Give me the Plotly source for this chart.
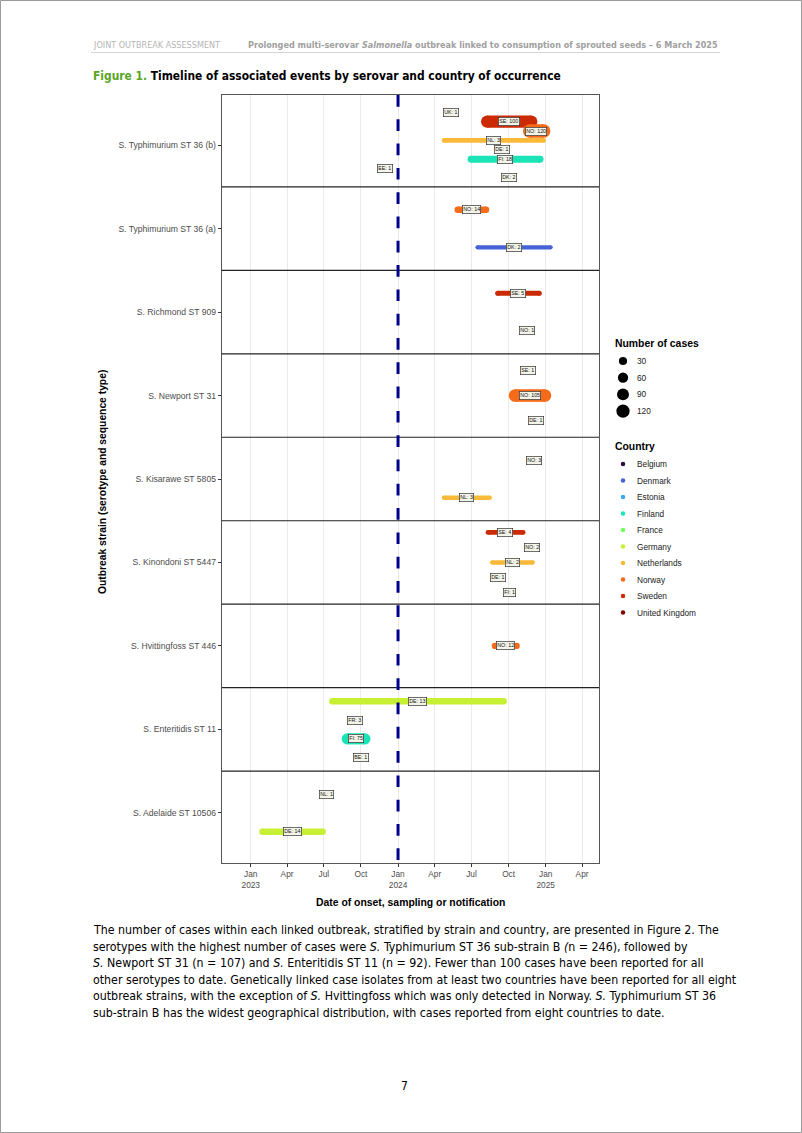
import math
from datetime import date
import plotly.graph_objects as go

W, H = 802, 1133

# ---------------- data ----------------
serovars = ["S. Adelaide ST 10506", "S. Enteritidis ST 11", "S. Hvittingfoss ST 446",
            "S. Kinondoni ST 5447", "S. Kisarawe ST 5805", "S. Newport ST 31",
            "S. Richmond ST 909", "S. Typhimurium ST 36 (a)", "S. Typhimurium ST 36 (b)"]

countries = ["Belgium", "Denmark", "Estonia", "Finland", "France", "Germany",
             "Netherlands", "Norway", "Sweden", "United Kingdom"]
country_codes = ["BE", "DK", "EE", "FI", "FR", "DE", "NL", "NO", "SE", "UK"]
country_colors = ["#30123B", "#4662D7", "#36AAF9", "#1AE4B6", "#72FE5E", "#C7EF34",
                  "#FABA39", "#F66B19", "#CB2A04", "#7A0403"]

# events: serovar, country code, number of cases, first date, last date
ev_serovar = ["S. Typhimurium ST 36 (b)"] * 8 + ["S. Typhimurium ST 36 (a)"] * 2 + \
             ["S. Richmond ST 909"] * 2 + ["S. Newport ST 31"] * 3 + ["S. Kisarawe ST 5805"] * 2 + \
             ["S. Kinondoni ST 5447"] * 5 + ["S. Hvittingfoss ST 446"] + \
             ["S. Enteritidis ST 11"] * 4 + ["S. Adelaide ST 10506"] * 2
ev_country = ["UK", "SE", "NO", "NL", "DE", "FI", "EE", "DK",
              "NO", "DK",
              "SE", "NO",
              "SE", "NO", "DE",
              "NO", "NL",
              "SE", "NO", "NL", "DE", "FI",
              "NO",
              "DE", "FR", "FI", "BE",
              "NL", "DE"]
ev_cases = [1, 100, 120, 3, 1, 18, 1, 2,
            14, 2,
            5, 1,
            1, 105, 1,
            3, 3,
            4, 2, 2, 1, 1,
            12,
            13, 3, 75, 1,
            1, 14]
ev_start = ["2024-05-11", "2024-08-09", "2024-11-22", "2024-04-24", "2024-09-14", "2024-06-30", "2023-11-29", "2024-10-01",
            "2024-05-28", "2024-07-16",
            "2024-09-04", "2024-11-15",
            "2024-11-19", "2024-10-17", "2024-12-08",
            "2024-12-02", "2024-04-24",
            "2024-08-11", "2024-11-29", "2024-08-21", "2024-09-04", "2024-10-02",
            "2024-08-28",
            "2023-07-22", "2023-09-17", "2023-08-28", "2023-09-30",
            "2023-07-08", "2023-01-30"]
ev_end = ["2024-05-11", "2024-11-26", "2024-12-27", "2024-12-27", "2024-09-14", "2024-12-18", "2023-11-29", "2024-10-01",
          "2024-08-06", "2025-01-13",
          "2024-12-16", "2024-11-15",
          "2024-11-19", "2024-12-30", "2024-12-08",
          "2024-12-02", "2024-08-15",
          "2024-11-06", "2024-11-29", "2024-11-30", "2024-09-04", "2024-10-02",
          "2024-10-21",
          "2024-09-19", "2023-09-17", "2023-10-11", "2023-09-30",
          "2023-07-08", "2023-06-28"]

reference_date = "2024-01-01"
x_range = ["2022-10-21", "2025-05-13"]
tick_dates = ["2023-01-01", "2023-04-01", "2023-07-01", "2023-10-01", "2024-01-01", "2024-04-01",
              "2024-07-01", "2024-10-01", "2025-01-01", "2025-04-01"]
tick_text = ["Jan<br>2023", "Apr", "Jul", "Oct", "Jan<br>2024", "Apr", "Jul", "Oct", "Jan<br>2025", "Apr"]
size_breaks = [30, 60, 90, 120]

# ---------------- helpers ----------------
CHART_FONT = "Liberation Sans, Arial, sans-serif"
DOC_FONT = "DejaVu Sans Condensed, Tahoma, DejaVu Sans, sans-serif"


def width_for(n):
    return 4.3 + 0.943 * (math.sqrt(n) - math.sqrt(2))


def px(x):
    return x / W


def py(y):
    return 1 - y / H


def d(s):
    return date.fromisoformat(s)


def note(x, y, text, size, color="black", family=CHART_FONT, xanchor="left", **kw):
    return dict(x=px(x), y=py(y), xref="paper", yref="paper", text=text, showarrow=False,
                xanchor=xanchor, yanchor="middle", font=dict(family=family, size=size, color=color), **kw)


fig = go.Figure()

# dodge positions within each serovar (reverse alphabetical by country name, top to bottom)
ypos = [0.0] * len(ev_cases)
for gi, sv in enumerate(serovars):
    idx = [i for i in range(len(ev_cases)) if ev_serovar[i] == sv]
    idx.sort(key=lambda i: -country_codes.index(ev_country[i]))
    n = len(idx)
    for k, i in enumerate(idx):
        ypos[i] = gi + ((n - 1) / 2 - k) * 0.9 / n

annotations = []
for i in range(len(ev_cases)):
    ci = country_codes.index(ev_country[i])
    col = country_colors[ci]
    w = width_for(ev_cases[i])
    s, e = d(ev_start[i]), d(ev_end[i])
    fig.add_trace(go.Scatter(
        x=[ev_start[i], ev_end[i]], y=[ypos[i], ypos[i]],
        mode="lines+markers",
        line=dict(color=col, width=w),
        marker=dict(color=col, size=w, line=dict(width=0)),
        xaxis="x", yaxis="y", showlegend=False, hoverinfo="skip"))
    mid = s + (e - s) / 2
    annotations.append(dict(
        x=mid.isoformat(), y=ypos[i], xref="x", yref="y",
        text=f"{ev_country[i]}: {ev_cases[i]}", showarrow=False,
        xanchor="center", yanchor="middle",
        font=dict(family=CHART_FONT, size=5.3, color="#111"),
        bgcolor="#f4f4e8", bordercolor="#333", borderwidth=0.7, borderpad=0.6))

# ---------------- legend (drawn on overlay pixel axes) ----------------
leg_x = 623
for k, b in enumerate(size_breaks):
    yy = 361 + k * 16.7
    fig.add_trace(go.Scatter(x=[leg_x], y=[yy], mode="markers",
                             marker=dict(color="black", size=width_for(b)),
                             xaxis="x2", yaxis="y2", showlegend=False, hoverinfo="skip"))
    annotations.append(note(635, yy, str(b), 8.3, "#222"))
annotations.append(note(613, 343, "<b>Number of cases</b>", 10.4))
annotations.append(note(613, 446, "<b>Country</b>", 10.4))
for k, c in enumerate(countries):
    yy = 464 + k * 16.5
    fig.add_trace(go.Scatter(x=[leg_x], y=[yy], mode="markers",
                             marker=dict(color=country_colors[k], size=4.5),
                             xaxis="x2", yaxis="y2", showlegend=False, hoverinfo="skip"))
    annotations.append(note(635, yy, c, 8.3, "#222"))

# ---------------- axis titles ----------------
annotations.append(note(410, 902, "<b>Date of onset, sampling or notification</b>", 10.4, xanchor="center"))
annotations.append(note(102, 482, "<b>Outbreak strain (serotype and sequence type)</b>", 10.3,
                        xanchor="center", textangle=-90))

# ---------------- document text ----------------
annotations.append(note(91, 45, "JOINT OUTBREAK ASSESSMENT", 9, "#b5b5b5", DOC_FONT))
annotations.append(note(720, 45, "<b>Prolonged multi-serovar <i>Salmonella</i> outbreak linked to consumption of sprouted seeds – 6 March 2025</b>",
                        9, "#a0a0a0", DOC_FONT, xanchor="right"))
annotations.append(note(91, 76, "<b><span style='color:#5aa626'>Figure 1.</span> Timeline of associated events by serovar and country of occurrence</b>",
                        11.9, "black", DOC_FONT))
body_lines = [
    "The number of cases within each linked outbreak, stratified by strain and country, are presented in Figure 2. The",
    "serotypes with the highest number of cases were <i>S.</i> Typhimurium ST 36 sub-strain B <i>(</i>n = 246), followed by",
    "<i>S.</i> Newport ST 31 (n = 107) and <i>S.</i> Enteritidis ST 11 (n = 92). Fewer than 100 cases have been reported for all",
    "other serotypes to date. Genetically linked case isolates from at least two countries have been reported for all eight",
    "outbreak strains, with the exception of <i>S.</i> Hvittingfoss which was only detected in Norway. <i>S.</i> Typhimurium ST 36",
    "sub-strain B has the widest geographical distribution, with cases reported from eight countries to date.",
]
for k, t in enumerate(body_lines):
    annotations.append(note(91, 930 + k * 16.5, t, 12.3, "black", DOC_FONT))
annotations.append(note(404, 1086, "7", 12, "black", DOC_FONT, xanchor="center"))

# ---------------- shapes ----------------
shapes = []
for gi in range(len(serovars) - 1):
    shapes.append(dict(type="line", xref="x domain", yref="y", x0=0, x1=1, y0=gi + 0.5, y1=gi + 0.5,
                       line=dict(color="#222", width=1.2)))
shapes.append(dict(type="line", xref="x", yref="y domain", x0=reference_date, x1=reference_date, y0=1, y1=0,
                   line=dict(color="#00008B", width=3, dash="11.7px,12.6px")))
shapes.append(dict(type="line", xref="paper", yref="paper", x0=px(91), x1=px(720), y0=py(52.5), y1=py(52.5),
                   line=dict(color="#d5d5d5", width=1)))
shapes.append(dict(type="rect", xref="paper", yref="paper", x0=px(0.5), x1=px(W - 0.5), y0=py(0.5), y1=py(H - 0.5),
                   line=dict(color="#9a9a9a", width=1)))

fig.update_layout(
    width=W, height=H, margin=dict(l=0, r=0, t=0, b=0),
    paper_bgcolor="white", plot_bgcolor="rgba(0,0,0,0)",
    showlegend=False,
    annotations=annotations, shapes=shapes,
    xaxis=dict(domain=[px(221.7), px(599)], type="date", range=x_range,
               tickvals=tick_dates, ticktext=tick_text, tickmode="array",
               showgrid=True, gridcolor="#ebebeb", gridwidth=1,
               showline=True, mirror=True, linecolor="#555", linewidth=1,
               ticks="outside", ticklen=3, tickcolor="#333", zeroline=False,
               tickfont=dict(family=CHART_FONT, size=8.3, color="#4d4d4d"), anchor="y"),
    yaxis=dict(domain=[py(863), py(95)], range=[-0.6, 8.6],
               tickvals=list(range(len(serovars))), ticktext=serovars, tickmode="array",
               showgrid=False, zeroline=False,
               showline=True, mirror=True, linecolor="#555", linewidth=1,
               ticks="outside", ticklen=3, tickcolor="#333",
               tickfont=dict(family=CHART_FONT, size=8.6, color="#4d4d4d"), anchor="x"),
    xaxis2=dict(domain=[0, 1], range=[0, W], visible=False, anchor="y2", fixedrange=True),
    yaxis2=dict(domain=[0, 1], range=[H, 0], visible=False, anchor="x2", fixedrange=True),
)

fig.write_html("out.html", config={"displayModeBar": False},
               post_script="document.body.style.margin='0px';document.body.style.overflow='hidden';")
